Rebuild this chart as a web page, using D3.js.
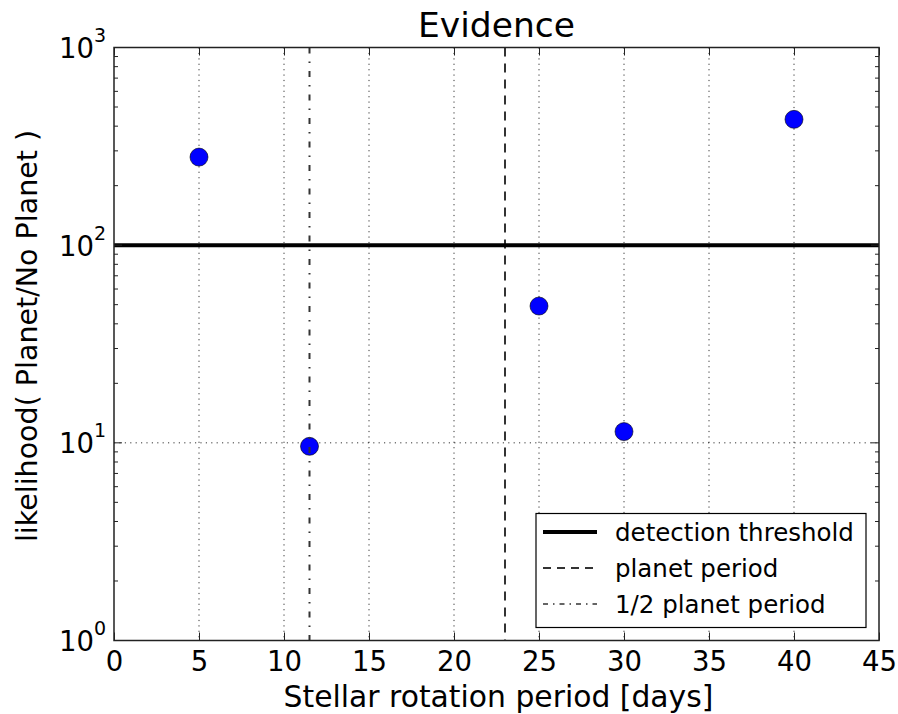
<!DOCTYPE html>
<html>
<head>
<meta charset="utf-8">
<script src="https://cdn.jsdelivr.net/npm/d3@7"></script>
<style>
  html, body { margin: 0; padding: 0; background: #fff; }
  svg { display: block; font-family: "DejaVu Sans", sans-serif; }
</style>
</head>
<body>
<svg id="chart" width="898" height="714"></svg>
<script>
// ---- data ----
const periods = [5, 11.5, 25, 30, 40];
const likelihood = [279, 9.6, 49.2, 11.4, 433];
const threshold = 100;
const planetPeriod = 23;
const halfPlanetPeriod = 11.5;
const xTicks = [0, 5, 10, 15, 20, 25, 30, 35, 40, 45];
const yMajorExponents = [0, 1, 2, 3];
const legendLabels = ["detection threshold", "planet period", "1/2 planet period"];
const titleText = "Evidence";
const xLabelText = "Stellar rotation period [days]";
const yLabelText = "likelihood( Planet/No Planet )";

// ---- layout ----
const L = 114, R = 879, T = 47.5, B = 640.5;
const svg = d3.select("#chart");
const x = d3.scaleLinear().domain([0, 45]).range([L, R]);
const y = d3.scaleLog().domain([1, 1000]).range([B, T]);

const yMinor = [];
for (let e = 0; e < 3; e++) for (let m = 2; m <= 9; m++) yMinor.push(m * Math.pow(10, e));

// gridlines (dotted)
const grid = svg.append("g").attr("stroke", "#000").attr("stroke-width", 0.8).attr("stroke-dasharray", "1.2,4.2");
grid.selectAll("line.gx").data(xTicks.filter(d => d > 0 && d < 45)).join("line")
  .attr("x1", d => x(d)).attr("x2", d => x(d)).attr("y1", T).attr("y2", B);
grid.selectAll("line.gy").data(yMajorExponents.filter(e => e > 0 && e < 3)).join("line")
  .attr("y1", e => y(Math.pow(10, e))).attr("y2", e => y(Math.pow(10, e))).attr("x1", L).attr("x2", R);

// points
svg.append("g").selectAll("circle").data(periods.map((p, i) => [p, likelihood[i]])).join("circle")
  .attr("cx", d => x(d[0])).attr("cy", d => y(d[1])).attr("r", 9)
  .attr("fill", "#0000ff").attr("stroke", "#000").attr("stroke-width", 0.6);

// vertical lines
svg.append("line").attr("x1", x(planetPeriod)).attr("x2", x(planetPeriod)).attr("y1", T).attr("y2", B)
  .attr("stroke", "#333").attr("stroke-width", 2).attr("stroke-dasharray", "9,7");
svg.append("line").attr("x1", x(halfPlanetPeriod)).attr("x2", x(halfPlanetPeriod)).attr("y1", T).attr("y2", B)
  .attr("stroke", "#333").attr("stroke-width", 2).attr("stroke-dasharray", "6,8,1.5,8");

// threshold
svg.append("line").attr("x1", L).attr("x2", R).attr("y1", y(threshold)).attr("y2", y(threshold))
  .attr("stroke", "#000").attr("stroke-width", 4);

// axes frame
svg.append("rect").attr("x", L).attr("y", T).attr("width", R - L).attr("height", B - T)
  .attr("fill", "none").attr("stroke", "#222").attr("stroke-width", 1.5);

// x axis ticks (inward, bottom & top) using d3 axes
const xb = d3.axisBottom(x).tickValues(xTicks).tickSizeInner(-8).tickSizeOuter(0).tickFormat(d3.format("d"));
const gxb = svg.append("g").attr("transform", `translate(0,${B})`).call(xb);
gxb.select(".domain").remove();
gxb.selectAll("line").attr("stroke", "#222").attr("stroke-width", 1);
gxb.selectAll("text").attr("font-size", 27.5).attr("fill", "#000").attr("font-family", "DejaVu Sans")
  .attr("y", 30.2).attr("dy", 0);
const xt = d3.axisTop(x).tickValues(xTicks).tickSizeInner(-8).tickSizeOuter(0).tickFormat("");
const gxt = svg.append("g").attr("transform", `translate(0,${T})`).call(xt);
gxt.select(".domain").remove();
gxt.selectAll("line").attr("stroke", "#222").attr("stroke-width", 1);

// y axis ticks (major + minor, inward, left & right)
function yTicks(side) {
  const sign = side === "left" ? 1 : -1;
  const x0 = side === "left" ? L : R;
  const g = svg.append("g").attr("stroke", "#222").attr("stroke-width", 1);
  g.selectAll("line.maj").data(yMajorExponents).join("line")
    .attr("x1", x0).attr("x2", x0 + sign * 8)
    .attr("y1", e => y(Math.pow(10, e))).attr("y2", e => y(Math.pow(10, e)));
  g.selectAll("line.min").data(yMinor).join("line")
    .attr("x1", x0).attr("x2", x0 + sign * 4)
    .attr("y1", d => y(d)).attr("y2", d => y(d));
}
yTicks("left"); yTicks("right");

// y tick labels 10^n
const yl = svg.append("g").attr("font-size", 27.5).attr("fill", "#000");
yMajorExponents.forEach(e => {
  const t = yl.append("text").attr("x", L - 8).attr("y", y(Math.pow(10, e)) + 10.5).attr("text-anchor", "end");
  t.append("tspan").text("10");
  t.append("tspan").attr("dy", -16).attr("font-size", 19).text(String(e));
});

// title & labels
svg.append("text").attr("x", (L + R) / 2).attr("y", 37).attr("text-anchor", "middle")
  .attr("font-size", 34.5).attr("fill", "#000").text(titleText);
svg.append("text").attr("x", (L + R) / 2 + 2).attr("y", 707).attr("text-anchor", "middle")
  .attr("font-size", 29.8).attr("fill", "#000").text(xLabelText);
svg.append("text").attr("transform", `translate(37,336) rotate(-90)`).attr("text-anchor", "middle")
  .attr("font-size", 28.5).attr("fill", "#000").text(yLabelText);

// legend
const lg = svg.append("g");
lg.append("rect").attr("x", 536).attr("y", 513.5).attr("width", 330).attr("height", 114)
  .attr("fill", "#fff").attr("stroke", "#000").attr("stroke-width", 1.2);
const styles = [
  { w: 4, c: "#000", dash: null },
  { w: 2, c: "#333", dash: "8,6" },
  { w: 1.5, c: "#333", dash: "5,5,1.5,5" }
];
legendLabels.forEach((lab, i) => {
  const cy = 532 + i * 36;
  const ln = lg.append("line").attr("x1", 543).attr("x2", 597).attr("y1", cy).attr("y2", cy)
    .attr("stroke", styles[i].c).attr("stroke-width", styles[i].w);
  if (styles[i].dash) ln.attr("stroke-dasharray", styles[i].dash);
  lg.append("text").attr("x", 615).attr("y", cy + 8.5).attr("font-size", 24.5).attr("fill", "#000").text(lab);
});
</script>
</body>
</html>
